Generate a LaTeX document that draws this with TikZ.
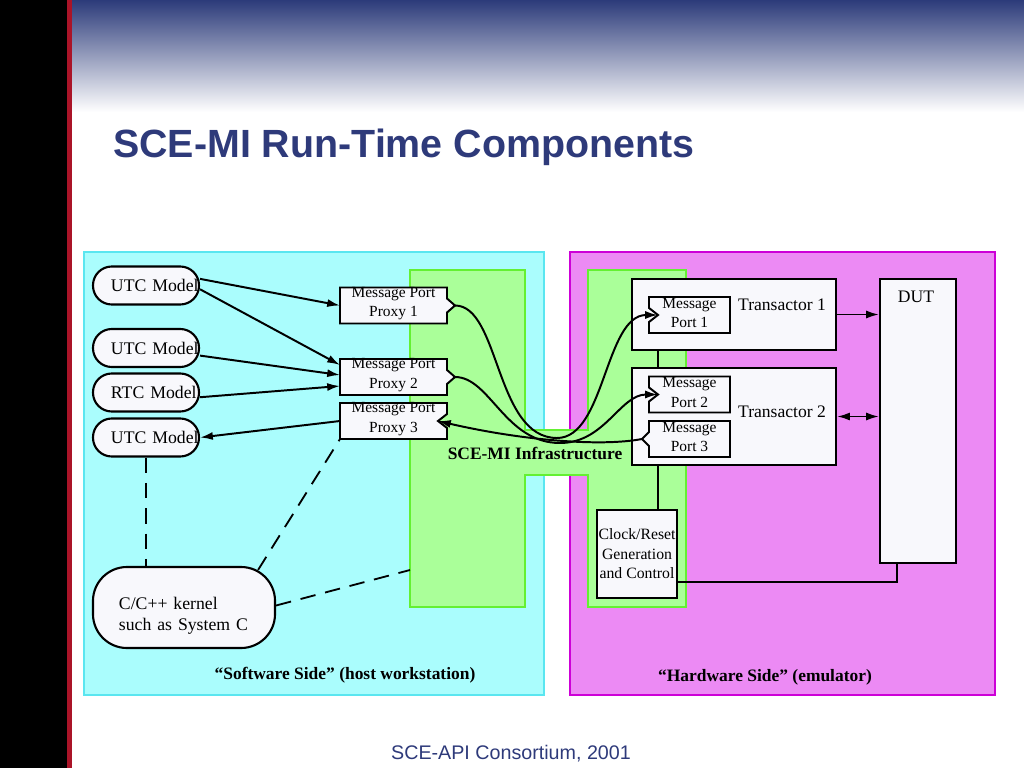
\documentclass[tikz,border=0pt]{standalone}
\usepackage{fontspec}
\setmainfont{Liberation Serif}
\newfontfamily\slidefont{Liberation Sans}
\usetikzlibrary{calc,arrows.meta}

\begin{document}
\begin{tikzpicture}[x=0.025cm, y=-0.025cm,
  boxline/.style={draw=black, line width=1.4pt},
  model/.style={boxline, line width=1.5pt, fill=boxfill, rounded corners=0.47cm,
    minimum height=0.95cm, text width=1.75cm, inner xsep=0.45cm, align=left,
    font=\fontsize{12.6}{15}\selectfont},
  plainbox/.style={boxline, fill=boxfill, inner sep=0pt},
  porttext/.style={inner sep=0pt, align=center, font=\fontsize{11}{14}\selectfont},
  bigtext/.style={inner sep=0pt, font=\fontsize{12.5}{15}\selectfont},
  sidelabel/.style={inner sep=0pt, font=\bfseries\fontsize{12.4}{15}\selectfont},
  link/.style={line width=1.4pt, -{Latex[length=3.2mm,width=2mm]}},
  link2/.style={line width=1.4pt, {Latex[length=3.2mm,width=2mm]}-{Latex[length=3.2mm,width=2mm]}},
  wire/.style={line width=1.4pt},
  softlink/.style={line width=1.3pt, dash pattern=on 11pt off 7pt},
]

\definecolor{hdrblue}{RGB}{44,59,122}
\definecolor{titleblue}{RGB}{46,58,122}
\definecolor{barred}{RGB}{170,20,40}
\definecolor{swfill}{RGB}{170,253,253}
\definecolor{swline}{RGB}{90,230,240}
\definecolor{hwfill}{RGB}{236,138,244}
\definecolor{hwline}{RGB}{205,0,215}
\definecolor{infill}{RGB}{170,255,153}
\definecolor{inline}{RGB}{100,240,50}
\definecolor{boxfill}{RGB}{248,248,252}

\useasboundingbox (0,0) rectangle (1024,768);

% ---------------- helper: message port with a notch ----------------
% #1 name, #2 centre, #3 half width, #4 side (1 right, -1 left), #5 notch (+out, -in)
\newcommand{\portbox}[6]{%
  \coordinate (#1) at #2;
  \filldraw[boxline, fill=boxfill]
    ($(#1)+({-1*(#4)*(#3)},-18)$) -- ($(#1)+({(#4)*(#3)},-18)$)
    -- ($(#1)+({(#4)*(#3)},-7)$) -- ($(#1)+({(#4)*((#3)+(#5))},0)$)
    -- ($(#1)+({(#4)*(#3)},7)$) -- ($(#1)+({(#4)*(#3)},18)$)
    -- ($(#1)+({-1*(#4)*(#3)},18)$) -- cycle;
  \coordinate (#1tip) at ($(#1)+({(#4)*((#3)+(#5))},0)$);
  \coordinate (#1w) at ($(#1)+(-#3,0)$);
  \node[porttext] (#1txt) at ($(#1)+(0,-2)$) {#6};
}

% =========== slide frame ===========
\fill[black] (0,0) rectangle (67,768);
\fill[barred] (67,0) rectangle (72,768);
\shade[top color=hdrblue, bottom color=white] (72,0) rectangle (1024,112);
\node[anchor=base west, inner sep=0pt, text=titleblue,
  font=\slidefont\bfseries\fontsize{28}{32}\selectfont] (title) at (113,158)
  {SCE-MI Run-Time Components};
\node[anchor=base, inner sep=0pt, text=titleblue,
  font=\slidefont\fontsize{14}{16}\selectfont] (footer) at (511,759)
  {SCE-API Consortium, 2001};

% =========== the two sides and the infrastructure ===========
\filldraw[fill=swfill, draw=swline, line width=1pt] (84,252) rectangle (544,695);
\filldraw[fill=hwfill, draw=hwline, line width=1pt] (570,252) rectangle (995,695);
\filldraw[fill=infill, draw=inline, line width=1.2pt]
  (410,270) -- (525,270) -- (525,430) -- (588,430) -- (588,270) -- (686,270)
  -- (686,607) -- (588,607) -- (588,475) -- (525,475) -- (525,607) -- (410,607) -- cycle;
\coordinate (infrawest) at (410,570);

% =========== software side ===========
\node[model] (utc1) at (146,285.5) {\mbox{UTC Model}};
\node[model] (utc2) at (146,348) {\mbox{UTC Model}};
\node[model] (rtc)  at (146,392.5) {\mbox{RTC Model}};
\node[model] (utc3) at (146,437.5) {\mbox{UTC Model}};
\node[model, rounded corners=0.85cm, minimum height=2.025cm, text width=3.25cm,
  inner xsep=0.65cm, text height=21pt] (kernel) at (184,607.5)
  {C/C++ kernel\\such as System C};

\portbox{pp1}{(393.5,305.5)}{53.5}{1}{8}{Message Port\\Proxy 1}
\portbox{pp2}{(393.5,377)}{53.5}{1}{8}{Message Port\\Proxy 2}
\portbox{pp3}{(393.5,421)}{53.5}{1}{-9}{Message Port\\Proxy 3}

\draw[link] (utc1.7) -- (pp1w);
\draw[link] (utc1.-4) -- ($(pp2w)+(0,-12)$);
\draw[link] (utc2.-8) -- ($(pp2w)+(0,-2)$);
\draw[link] (rtc.-5) -- ($(pp2w)+(0,9)$);
\draw[link] (pp3w) -- (utc3.east);

\draw[softlink] (utc3.south) -- (utc3.south |- kernel.north);
\draw[softlink] ($(kernel.north east)+(-18,4)$) -- ($(pp3w)+(0,18)$);
\draw[softlink] ($(kernel.east)+(0,-2)$) -- (infrawest);

% =========== hardware side ===========
\node[plainbox, minimum width=5.1cm, minimum height=1.775cm] (tr1) at (734,314.5) {};
\node[plainbox, minimum width=5.1cm, minimum height=2.425cm] (tr2) at (734,416.5) {};
\node[plainbox, minimum width=1.9cm, minimum height=7.1cm] (dut) at (918,421) {};
\node[plainbox, minimum width=2cm, minimum height=2.2cm, align=center,
  font=\fontsize{11.2}{13.8}\selectfont] (clk) at (637,554)
  {Clock/Reset\\Generation\\and Control};

\node[bigtext] (tr1txt) at (782,305) {Transactor 1};
\node[bigtext] (tr2txt) at (782,412) {Transactor 2};
\node[bigtext] (duttxt) at (916,297) {DUT};

\portbox{mp1}{(689.5,315)}{40.5}{-1}{-9}{Message\\Port 1}
\portbox{mp2}{(689.5,394.5)}{40.5}{-1}{-9}{Message\\Port 2}
\portbox{mp3}{(689.5,439)}{40.5}{-1}{7}{Message\\Port 3}

\draw[link] (tr1.east) -- (tr1.east -| dut.west);
\draw[link2] (tr2.east) -- (tr2.east -| dut.west);
\draw[wire] ($(tr1.south west)+(27,0)$) -- ($(tr2.north west)+(27,0)$);
\draw[wire] ($(tr2.south west)+(27,0)$) coordinate (clkup) -- (clkup |- clk.north);
\draw[wire] ($(clk.south east)+(0,-17)$) -| ($(dut.south west)+(18,0)$);

% =========== links through the infrastructure ===========
\draw[link] (pp1tip) .. controls (500,305.5) and (495,438) .. (557,438)
  .. controls (605,438) and (605,315) .. (mp1tip);
\draw[link] (pp2tip) .. controls (490,377) and (505,443) .. (560,443)
  .. controls (605,443) and (620,394.5) .. (mp2tip);
\draw[link] (mp3tip) .. controls (600,447) and (520,440) .. (pp3tip);

\node[sidelabel] (infralabel) at (535,453) {SCE-MI Infrastructure};
\node[sidelabel] (swlabel) at (345,675) {“Software Side” (host workstation)};
\node[sidelabel] (hwlabel) at (765,677) {“Hardware Side” (emulator)};

\end{tikzpicture}
\end{document}
